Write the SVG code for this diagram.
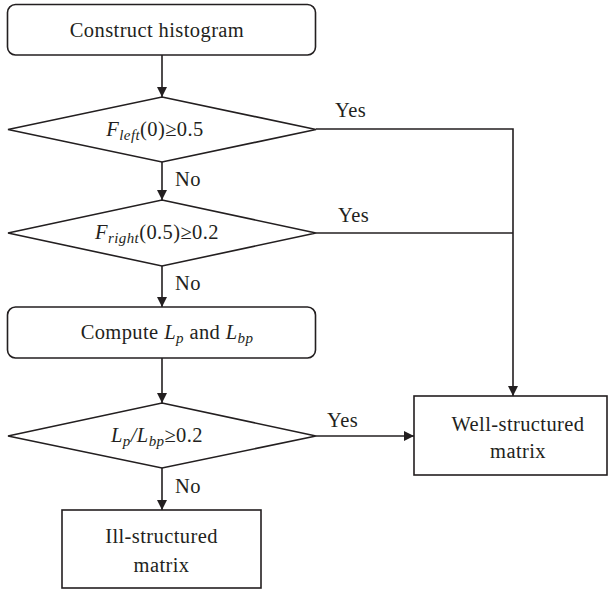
<svg xmlns="http://www.w3.org/2000/svg" width="608" height="591" viewBox="0 0 608 591">
<style>
  .shape { fill: #ffffff; stroke: #231f20; stroke-width: 1.6; }
  .conn { fill: none; stroke: #231f20; stroke-width: 1.6; }
  text { font-family: "Liberation Serif", "Times New Roman", serif; font-size: 20.5px; letter-spacing: 0.4px; fill: #231f20; }
  .c { text-anchor: middle; }
  .i { font-style: italic; }
  .sub { font-style: italic; font-size: 15px; }
</style>
<defs>
  <marker id="arr" viewBox="0 0 10 10" refX="10" refY="5" markerWidth="10" markerHeight="10" markerUnits="userSpaceOnUse" orient="auto">
    <path d="M0,0 L10,5 L0,10 z" fill="#231f20"/>
  </marker>
</defs>
<g id="connectors">
  <path class="conn" d="M162,55 V97" marker-end="url(#arr)"/>
  <path class="conn" d="M162,162 V200" marker-end="url(#arr)"/>
  <path class="conn" d="M162,266 V307" marker-end="url(#arr)"/>
  <path class="conn" d="M162,358 V403" marker-end="url(#arr)"/>
  <path class="conn" d="M162,468 V510" marker-end="url(#arr)"/>
  <path class="conn" d="M316,129 H513 V396" marker-end="url(#arr)"/>
  <path class="conn" d="M316,233 H513"/>
  <path class="conn" d="M316,436 H414" marker-end="url(#arr)"/>
  <text x="175" y="186">No</text>
  <text x="175" y="290">No</text>
  <text x="175" y="493">No</text>
  <text x="335" y="117">Yes</text>
  <text x="338" y="222">Yes</text>
  <text x="327" y="427">Yes</text>
</g>
<g id="construct">
  <rect class="shape" x="7.5" y="4.5" width="308" height="50.5" rx="8"/>
  <text class="c" x="157" y="37">Construct histogram</text>
</g>
<g id="cond1">
  <polygon class="shape" points="162,97 316,129.5 162,162 8,129.5"/>
  <text class="c" x="155" y="136"><tspan class="i">F</tspan><tspan class="sub" dy="4">left</tspan><tspan dy="-4">(0)≥0.5</tspan></text>
</g>
<g id="cond2">
  <polygon class="shape" points="162,200 316,233 162,266 8,233"/>
  <text class="c" x="157" y="239"><tspan class="i">F</tspan><tspan class="sub" dy="4">right</tspan><tspan dy="-4">(0.5)≥0.2</tspan></text>
</g>
<g id="compute">
  <rect class="shape" x="7.5" y="307" width="308" height="51" rx="8"/>
  <text class="c" x="167" y="339">Compute <tspan class="i">L</tspan><tspan class="sub" dy="4">p</tspan><tspan dy="-4"> and </tspan><tspan class="i">L</tspan><tspan class="sub" dy="4">bp</tspan></text>
</g>
<g id="cond3">
  <polygon class="shape" points="162,403 316,436 162,468 8,436"/>
  <text class="c" x="157" y="442"><tspan class="i">L</tspan><tspan class="sub" dy="4">p</tspan><tspan class="i" dy="-4">/L</tspan><tspan class="sub" dy="4">bp</tspan><tspan dy="-4">≥0.2</tspan></text>
</g>
<g id="well">
  <rect class="shape" x="414" y="396" width="193" height="79"/>
  <text class="c" x="518" y="431">Well-structured</text>
  <text class="c" x="518" y="458">matrix</text>
</g>
<g id="ill">
  <rect class="shape" x="62" y="510" width="199" height="78"/>
  <text class="c" x="161.5" y="543">Ill-structured</text>
  <text class="c" x="161.5" y="572">matrix</text>
</g>
</svg>
